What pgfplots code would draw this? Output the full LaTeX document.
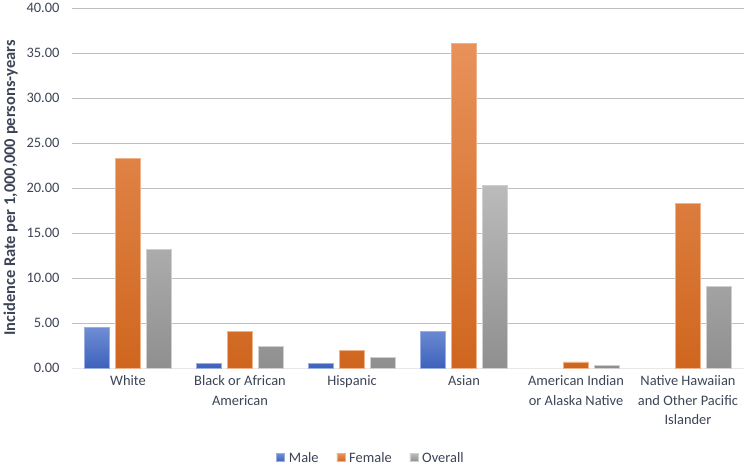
\documentclass[border=0pt]{standalone}
\usepackage{pgfplots}
\pgfplotsset{compat=1.18}
\usepackage{fontspec}
\setmainfont{Carlito}
\definecolor{txt}{HTML}{3C4456}
\definecolor{grid}{HTML}{E8E8E8}
\definecolor{maleT}{HTML}{6E8DD3}
\definecolor{maleB}{HTML}{3E62BC}
\definecolor{femT}{HTML}{E8925A}
\definecolor{femB}{HTML}{CF661F}
\definecolor{allT}{HTML}{BBBBBB}
\definecolor{allB}{HTML}{8F8F8F}
\begin{document}
\begin{tikzpicture}
\begin{axis}[
  scale only axis,
  width=672bp, height=360bp,
  ymin=0, ymax=40, ytick={0,5,...,40},
  xmin=-0.5, xmax=5.5,
  xtick={0,1,2,3,4,5},
  xticklabels={White, Black or African\\American, Hispanic, Asian, American Indian\\or Alaska Native, Native Hawaiian\\and Other Pacific\\Islander},
  xticklabel style={align=center, font=\fontsize{14.5}{19.5}\selectfont, text=txt, yshift=-4bp},
  yticklabel style={font=\fontsize{14.5}{16}\selectfont, text=txt, xshift=-9bp},
  /pgf/number format/assume math mode=true,
  yticklabel={\pgfmathprintnumber[fixed, fixed zerofill, precision=2]{\tick}},
  ymajorgrids, xmajorgrids=false, grid style={grid, line width=0.8bp},
  major tick length=0pt,
  axis x line*=bottom, axis y line*=left,
  y axis line style={draw=none},
  x axis line style={grid, line width=0.8bp, -},
  ylabel={Incidence Rate per 1,000,000 persons-years},
  ylabel style={font=\fontsize{16.5}{18}\selectfont\bfseries, text=txt, yshift=2bp},
  ybar=6bp, bar width=25bp,
  legend style={at={(rel axis cs:0.445,-0.25)}, anchor=center, draw=none, legend columns=-1, font=\fontsize{14.5}{16}\selectfont, text=txt, /tikz/every even column/.append style={column sep=16bp}},
  legend image code/.code={\fill[#1] (0bp,-3.5bp) rectangle (8bp,4.5bp); \path (10bp,0bp);},
]
\addplot[top color=maleT, bottom color=maleB, draw=maleT!70!white, line width=0.5bp] coordinates {(0,4.48) (1,0.55) (2,0.55) (3,4.10)};
\addplot[top color=femT, bottom color=femB, draw=femT!70!white, line width=0.5bp] coordinates {(0,23.3) (1,4.1) (2,2.0) (3,36.1) (4,0.7) (5,18.3)};
\addplot[top color=allT, bottom color=allB, draw=allT!70!white, line width=0.5bp] coordinates {(0,13.2) (1,2.37) (2,1.22) (3,20.3) (4,0.33) (5,9.1)};
\legend{Male, Female, Overall}
\end{axis}
\path (current axis.south west) ++(-72bp,-98bp) rectangle ++(746bp,465bp);
\end{tikzpicture}
\end{document}
